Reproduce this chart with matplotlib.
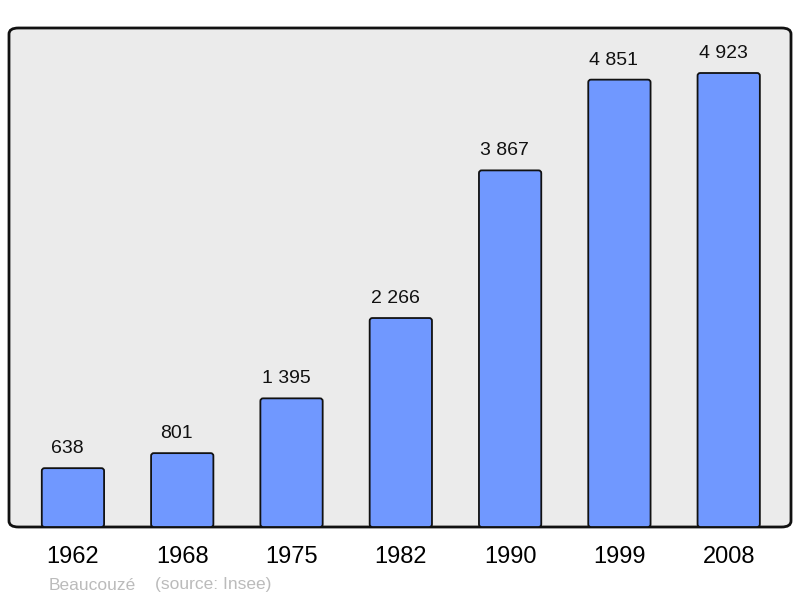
import matplotlib.pyplot as plt
from matplotlib.patches import FancyBboxPatch

plt.rcParams['font.family'] = ['Liberation Sans', 'DejaVu Sans']

# Population of Beaucouzé by census year
years = ['1962', '1968', '1975', '1982', '1990', '1999', '2008']
population = [638, 801, 1395, 2266, 3867, 4851, 4923]
value_labels = ['638', '801', '1 395', '2 266', '3 867', '4 851', '4 923']

fig = plt.figure(figsize=(8, 5.98), dpi=100)
ax = fig.add_axes([9 / 800, 71 / 598, 782 / 800, 499 / 598])
ax.set_xlim(-0.585, 6.57)
ax.set_ylim(0, 5411)
ax.patch.set_visible(False)
for s in ax.spines.values():
    s.set_visible(False)

# rounded grey frame
frame = FancyBboxPatch((0, 0), 1, 1, boxstyle='round,pad=0,rounding_size=0.012',
                       transform=ax.transAxes, facecolor='#ebebeb',
                       edgecolor='#111111', linewidth=2, zorder=0, clip_on=False)
ax.add_patch(frame)

# data units per pixel, y over x, so the bar corners come out round
aspect = (5411 / 499) / (7.155 / 782)
x = range(len(years))
for i, v in zip(x, population):
    bar = FancyBboxPatch((i - 0.285, 0), 0.57, v,
                         boxstyle='round,pad=0,rounding_size=0.025',
                         mutation_aspect=aspect,
                         facecolor='#7098ff', edgecolor='#111111',
                         linewidth=1.3, zorder=2)
    ax.add_patch(bar)

for i, v, lab in zip(x, population, value_labels):
    ax.annotate(lab, (i, v), xytext=(-4, 8), textcoords='offset points',
                ha='center', va='bottom', fontsize=14, color='#111111')

ax.set_xticks(list(x))
ax.set_xticklabels(years, fontsize=17)
ax.tick_params(axis='x', length=0, pad=14)
ax.set_yticks([])

fig.text(49 / 800, 1 - 585 / 598, 'Beaucouzé', fontsize=12.5, color='#bbbbbb', va='center')
fig.text(155 / 800, 1 - 585 / 598, '(source: Insee)', fontsize=12.5, color='#bbbbbb', va='center')

fig.savefig('out.png', dpi=100)
